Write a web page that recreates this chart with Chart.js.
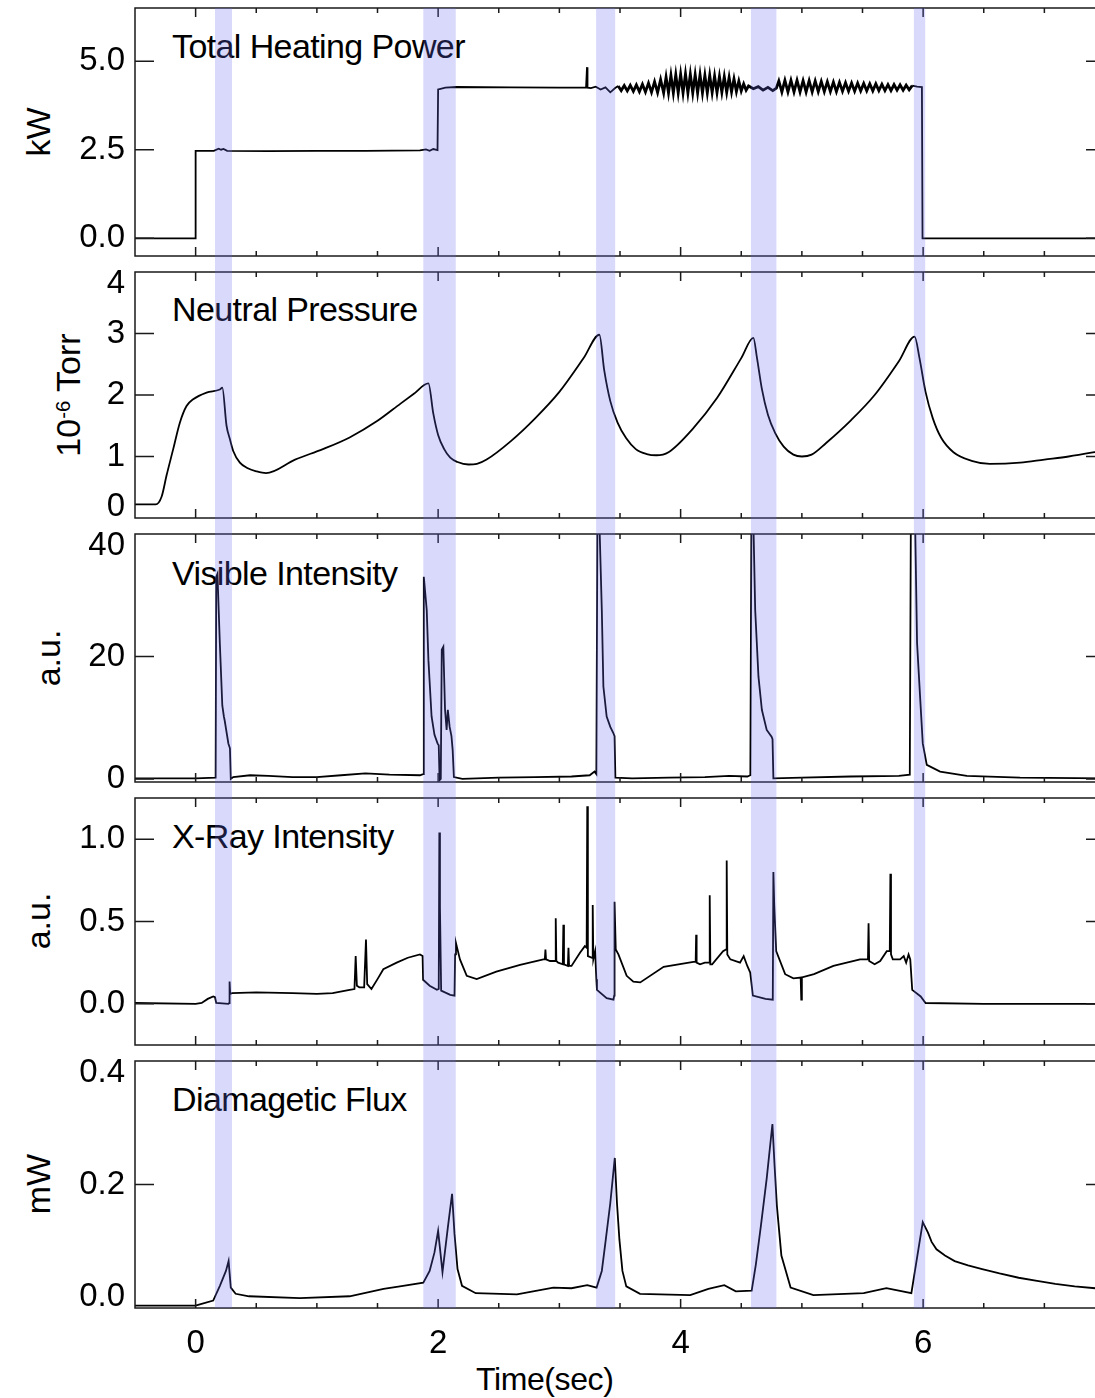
<!DOCTYPE html>
<html lang="en">
<head>
<meta charset="UTF-8" />
<title>Discharge signals</title>
<script src="https://cdn.jsdelivr.net/npm/chart.js"></script>
<style>
  body { margin: 0; background: #fff; overflow: hidden; }
  #wrap { position: relative; width: 1095px; height: 1398px; overflow: hidden;
          font-family: "Liberation Sans", Arial, sans-serif; color: #000; }
  canvas { position: absolute; left: 0; z-index: 1; }
  .name { position: absolute; left: 172px; font-size: 34px; line-height: 1;
          white-space: nowrap; letter-spacing: -0.6px; z-index: 0; }
  .ytitle { position: absolute; font-size: 34px; line-height: 1; white-space: nowrap;
            transform: translate(-50%, -50%) rotate(-90deg); z-index: 0; }
  .sup { position: relative; top: -0.5em; font-size: 0.6em; }
  #xtitle { position: absolute; left: 476px; top: 1363px; font-size: 32px; line-height: 1;
            white-space: nowrap; letter-spacing: -0.4px; }
</style>
</head>
<body>
<div id="wrap">
  <div class="name" style="top:29px">Total Heating Power</div>
  <div class="name" style="top:292px">Neutral Pressure</div>
  <div class="name" style="top:556px">Visible Intensity</div>
  <div class="name" style="top:819px">X-Ray Intensity</div>
  <div class="name" style="top:1082px">Diamagetic Flux</div>

  <div class="ytitle" style="left:38px;top:132px">kW</div>
  <div class="ytitle" style="left:68px;top:395px">10<span class="sup">-6</span> Torr</div>
  <div class="ytitle" style="left:48px;top:658px">a.u.</div>
  <div class="ytitle" style="left:38px;top:921px">a.u.</div>
  <div class="ytitle" style="left:38px;top:1184px">mW</div>

  <div id="xtitle">Time(sec)</div>

  <canvas id="cPower"></canvas>
  <canvas id="cPressure"></canvas>
  <canvas id="cVisible"></canvas>
  <canvas id="cXray"></canvas>
  <canvas id="cFlux"></canvas>
</div>

<script>
// ---- data ----
const timeTicks = [0, 0.5, 1, 1.5, 2, 2.5, 3, 3.5, 4, 4.5, 5, 5.5, 6, 6.5, 7];
const timeLabels = [0, 2, 4, 6];

// shaded time windows
const bandStart = [0.16, 1.878, 3.303, 4.58, 5.924];
const bandEnd = [0.30, 2.145, 3.46, 4.79, 6.017];

// stretch of the power trace with the fast ripple (drawn a bit heavier)
const rippleFrom = 3.47;
const rippleTo = 5.93;

const powerTicks = [0, 2.5, 5];
const powerTime = [
  -0.5, -0.005, 0.0, 0.15, 0.19, 0.21, 0.23, 0.26, 0.6, 1.0, 1.4, 1.85, 1.9, 1.93, 1.96, 1.995,
  2.0, 2.02, 2.06, 2.15, 2.6, 3.0, 3.22, 3.228, 3.232, 3.26, 3.30, 3.34, 3.38, 3.42, 3.46,
  // ripple, first part
  3.485, 3.51, 3.535, 3.56, 3.585, 3.61, 3.635, 3.66, 3.685, 3.71, 3.735, 3.76, 3.785, 3.81, 3.835, 3.86,
  // ripple, strongest part
  3.88, 3.90, 3.92, 3.94, 3.96, 3.98, 4.00, 4.02, 4.04, 4.06,
  4.08, 4.10, 4.12, 4.14, 4.16, 4.18, 4.20, 4.22, 4.24, 4.26,
  4.28, 4.30, 4.32, 4.34, 4.36, 4.38, 4.40, 4.42, 4.44, 4.46,
  4.48, 4.50, 4.52, 4.54, 4.56,
  4.60, 4.64, 4.68, 4.72, 4.76, 4.79,
  // ripple, late part
  4.81, 4.835, 4.86, 4.885, 4.91, 4.935, 4.96, 4.985, 5.01, 5.035,
  5.06, 5.085, 5.11, 5.135, 5.16, 5.185, 5.21, 5.235, 5.26, 5.285,
  5.31, 5.335, 5.36, 5.385, 5.41, 5.435, 5.46, 5.485, 5.51, 5.535,
  5.56, 5.585, 5.61, 5.635, 5.66, 5.685, 5.71, 5.735, 5.76, 5.785,
  5.81, 5.835, 5.86, 5.885, 5.91,
  5.95, 5.99, 5.995, 7.5
];
const powerKW = [
  0, 0, 2.47, 2.47, 2.53, 2.50, 2.52, 2.47, 2.46, 2.47, 2.47, 2.48, 2.51, 2.47, 2.52, 2.49,
  4.20, 4.22, 4.25, 4.27, 4.26, 4.25, 4.25, 4.83, 4.25, 4.24, 4.28, 4.20, 4.26, 4.12, 4.24,
  4.30, 4.17, 4.31, 4.16, 4.32, 4.15, 4.33, 4.14, 4.35, 4.13, 4.38, 4.12, 4.42, 4.11, 4.48, 4.10,
  4.55, 4.10, 4.60, 4.10, 4.62, 4.10, 4.63, 4.10, 4.64, 4.10,
  4.63, 4.10, 4.62, 4.10, 4.62, 4.10, 4.60, 4.10, 4.60, 4.11,
  4.58, 4.11, 4.57, 4.12, 4.56, 4.12, 4.54, 4.13, 4.50, 4.14,
  4.44, 4.16, 4.36, 4.18, 4.30,
  4.22, 4.28, 4.18, 4.26, 4.17, 4.24,
  4.44, 4.13, 4.46, 4.13, 4.46, 4.13, 4.46, 4.13, 4.45, 4.13,
  4.45, 4.13, 4.44, 4.14, 4.43, 4.14, 4.42, 4.14, 4.41, 4.14,
  4.40, 4.15, 4.39, 4.15, 4.38, 4.15, 4.38, 4.16, 4.37, 4.16,
  4.36, 4.16, 4.36, 4.17, 4.35, 4.17, 4.34, 4.17, 4.34, 4.18,
  4.33, 4.18, 4.32, 4.19, 4.31,
  4.28, 4.27, 0, 0
];

const pressureTicks = [0, 1, 2, 3, 4];
const pressureTime = [
  -0.5, -0.33, -0.28, -0.24, -0.185, -0.13, -0.075, -0.02, 0.09, 0.2, 0.22, 0.255, 0.283, 0.31,
  0.365, 0.43, 0.5, 0.58, 0.82, 1.05, 1.27, 1.5, 1.69, 1.8, 1.92, 1.96, 2.0, 2.05, 2.1, 2.16,
  2.25, 2.32, 2.4, 2.6, 2.8, 3.0, 3.2, 3.33, 3.37, 3.42, 3.48, 3.55, 3.63, 3.72, 3.8, 3.9,
  4.1, 4.3, 4.5, 4.6, 4.63, 4.67, 4.72, 4.78, 4.85, 4.93, 5.0, 5.08, 5.2, 5.4, 5.6, 5.8,
  5.93, 5.97, 6.02, 6.08, 6.15, 6.25, 6.4, 6.55, 6.8, 7.0, 7.2, 7.5
];
const pressureTorr = [
  0.22, 0.22, 0.35, 0.69, 1.12, 1.55, 1.82, 1.93, 2.04, 2.09, 2.12, 1.50, 1.28, 1.09,
  0.90, 0.81, 0.76, 0.73, 0.95, 1.12, 1.31, 1.58, 1.86, 2.02, 2.19, 1.70, 1.35, 1.12, 0.98, 0.91,
  0.87, 0.88, 0.95, 1.25, 1.62, 2.05, 2.6, 2.98, 2.4, 1.9, 1.55, 1.3, 1.12, 1.04, 1.02, 1.07,
  1.45, 1.95, 2.6, 2.93, 2.6, 2.1, 1.68, 1.38, 1.16, 1.03, 1.0, 1.03, 1.22, 1.58, 2.0, 2.55,
  2.95, 2.6, 2.05, 1.62, 1.3, 1.07, 0.93, 0.88, 0.9, 0.95, 1.0, 1.1
];

const visibleTicks = [0, 20, 40];
const visibleTime = [
  -0.5, 0.0, 0.165, 0.17, 0.18, 0.2, 0.22, 0.233, 0.24, 0.27, 0.283, 0.29, 0.31, 0.45, 0.6,
  0.8, 1.0, 1.2, 1.4, 1.6, 1.85, 1.876, 1.882, 1.906, 1.92, 1.946, 1.97, 1.995, 2.005, 2.012,
  2.022, 2.03, 2.043, 2.057, 2.07, 2.08, 2.095, 2.11, 2.12, 2.13, 2.2, 2.5, 2.8, 3.1, 3.25,
  3.29, 3.305, 3.315, 3.33, 3.35, 3.363, 3.39, 3.42, 3.445, 3.455, 3.462, 3.6, 3.9, 4.2, 4.4,
  4.55, 4.575, 4.585, 4.6, 4.615, 4.642, 4.67, 4.71, 4.75, 4.758, 4.765, 5.0, 5.4, 5.8, 5.89,
  5.9, 5.935, 5.95, 5.975, 5.997, 6.03, 6.14, 6.36, 6.8, 7.5
];
const visibleAU = [
  0.1, 0.1, 0.2, 33.0, 33.5, 22.0, 12.0, 10.2, 9.5, 5.8, 5.0, 0.0, 0.3, 0.6, 0.5,
  0.3, 0.3, 0.6, 0.9, 0.7, 0.6, 0.8, 33.0, 27.6, 19.4, 10.2, 7.2, 5.8, 5.5, -0.2,
  0.0, 21.1, 21.6, 11.3, 8.0, 11.3, 8.5, 7.0, 4.7, 0.3, 0.0, 0.2, 0.3, 0.4, 0.6,
  1.2, 0.8, 48.0, 42.0, 27.6, 15.1, 10.2, 8.5, 7.5, 7.0, 0.2, 0.1, 0.2, 0.3, 0.5,
  0.4, 0.6, 48.0, 42.0, 27.6, 16.7, 11.3, 8.0, 6.9, 6.5, 0.1, 0.2, 0.4, 0.5, 0.7,
  48.0, 40.5, 22.2, 13.4, 5.8, 2.3, 1.2, 0.5, 0.2, 0.1
];

const xrayTicks = [0, 0.5, 1];
const xrayTime = [
  -0.5, 0.0, 0.05, 0.1, 0.145, 0.16, 0.17, 0.27, 0.277, 0.28,
  0.285, 0.3, 0.5, 0.8, 1.0, 1.13, 1.27, 1.31, 1.32, 1.33,
  1.35, 1.39, 1.405, 1.415, 1.45, 1.5, 1.548, 1.658, 1.75, 1.85,
  1.872, 1.876, 1.93, 1.99, 2.005, 2.01, 2.015, 2.025, 2.1, 2.135,
  2.14, 2.147, 2.18, 2.236, 2.318, 2.48, 2.676, 2.868, 2.88, 2.885,
  2.89, 2.923, 2.965, 2.97, 2.975, 2.99, 3.028, 3.033, 3.038, 3.07,
  3.075, 3.08, 3.1, 3.17, 3.21, 3.225, 3.23, 3.235, 3.27, 3.275,
  3.28, 3.295, 3.305, 3.31, 3.39, 3.446, 3.452, 3.455, 3.465, 3.487,
  3.555, 3.61, 3.667, 3.86, 4.105, 4.124, 4.128, 4.132, 4.16, 4.2,
  4.235, 4.24, 4.245, 4.26, 4.35, 4.375, 4.38, 4.385, 4.41, 4.49,
  4.52, 4.55, 4.574, 4.596, 4.7, 4.76, 4.765, 4.772, 4.788, 4.862,
  4.93, 4.99, 4.995, 5.0, 5.1, 5.26, 5.48, 5.545, 5.55, 5.555,
  5.6, 5.646, 5.7, 5.725, 5.73, 5.735, 5.75, 5.81, 5.84, 5.86,
  5.88, 5.894, 5.91, 5.98, 6.02, 6.5, 7.0, 7.5
];
const xrayAU = [
  0.005, 0.0, 0.005, 0.03, 0.045, 0.04, 0.005, 0.0, 0.005, 0.135,
  0.06, 0.065, 0.07, 0.065, 0.06, 0.065, 0.085, 0.09, 0.29, 0.11,
  0.1, 0.1, 0.39, 0.12, 0.09, 0.15, 0.21, 0.25, 0.28, 0.30,
  0.29, 0.146, 0.11, 0.085, 0.09, 1.04, 0.59, 0.08, 0.055, 0.05,
  0.30, 0.37, 0.27, 0.17, 0.15, 0.196, 0.237, 0.27, 0.27, 0.33,
  0.27, 0.26, 0.26, 0.52, 0.26, 0.25, 0.24, 0.48, 0.24, 0.23,
  0.34, 0.23, 0.23, 0.31, 0.35, 0.34, 1.20, 0.29, 0.28, 0.60,
  0.27, 0.32, 0.15, 0.085, 0.035, 0.025, 0.05, 0.62, 0.33, 0.30,
  0.17, 0.135, 0.13, 0.225, 0.255, 0.255, 0.42, 0.25, 0.24, 0.25,
  0.25, 0.66, 0.24, 0.24, 0.32, 0.33, 0.87, 0.30, 0.27, 0.25,
  0.29, 0.23, 0.19, 0.05, 0.03, 0.025, 0.80, 0.60, 0.32, 0.18,
  0.155, 0.16, 0.025, 0.16, 0.18, 0.23, 0.27, 0.27, 0.49, 0.26,
  0.24, 0.26, 0.32, 0.32, 0.79, 0.30, 0.27, 0.27, 0.29, 0.25,
  0.30, 0.27, 0.085, 0.045, 0.005, 0.0, 0.0, 0.0
];

const fluxTicks = [0, 0.2, 0.4];
const fluxTime = [
  -0.5, 0.0, 0.035, 0.145, 0.2, 0.25, 0.272, 0.29, 0.33, 0.44,
  0.86, 1.27, 1.55, 1.685, 1.878, 1.93, 1.97, 2.0, 2.036, 2.08,
  2.115, 2.135, 2.16, 2.197, 2.31, 2.65, 2.95, 3.1, 3.23, 3.307,
  3.35, 3.383, 3.42, 3.457, 3.475, 3.495, 3.52, 3.552, 3.665, 4.079,
  4.229, 4.36, 4.455, 4.586, 4.62, 4.662, 4.71, 4.757, 4.775, 4.794,
  4.831, 4.907, 5.095, 5.51, 5.697, 5.903, 5.997, 6.04, 6.07, 6.11,
  6.18, 6.26, 6.37, 6.487, 6.63, 6.788, 6.94, 7.09, 7.25, 7.42, 7.5
];
const fluxMW = [
  0.004, 0.004, 0.006, 0.012, 0.036, 0.06, 0.076, 0.033, 0.023, 0.019,
  0.016, 0.019, 0.031, 0.035, 0.041, 0.06, 0.09, 0.125, 0.058, 0.13,
  0.185, 0.12, 0.063, 0.036, 0.024, 0.022, 0.033, 0.032, 0.037, 0.033,
  0.06, 0.111, 0.17, 0.243, 0.17, 0.111, 0.06, 0.035, 0.023, 0.021,
  0.031, 0.037, 0.027, 0.028, 0.07, 0.133, 0.21, 0.298, 0.23, 0.165,
  0.085, 0.033, 0.021, 0.024, 0.032, 0.024, 0.139, 0.122, 0.107, 0.095,
  0.085, 0.076, 0.069, 0.063, 0.056, 0.049, 0.044, 0.039, 0.035, 0.032, 0.031
];

// ---- layout ----
const FONT = '"Liberation Sans", Arial, sans-serif';
const CANVAS_W = 1110;
const PLOT_LEFT = 135;
const PLOT_RIGHT = 1105; // right frame sits just past the window edge
const PAD = 10;
const GAP = 16;

// frame with inward ticks, then the shaded windows laid over everything
const framePlugin = {
  id: "frame",
  afterDatasetsDraw(chart) {
    const { ctx, chartArea: a, scales } = chart;
    ctx.save();
    ctx.strokeStyle = "#1a1a1a";
    ctx.lineWidth = 1.5;
    ctx.strokeRect(a.left, a.top, a.right - a.left, a.bottom - a.top);
    ctx.beginPath();
    timeTicks.forEach((t) => {
      const x = scales.x.getPixelForValue(t);
      const len = timeLabels.includes(t) ? 9 : 5;
      ctx.moveTo(x, a.bottom);
      ctx.lineTo(x, a.bottom - len);
      ctx.moveTo(x, a.top);
      ctx.lineTo(x, a.top + len);
    });
    scales.y.ticks.forEach((tk) => {
      if (tk.value <= scales.y.min || tk.value >= scales.y.max) return;
      const y = scales.y.getPixelForValue(tk.value);
      ctx.moveTo(a.left, y);
      ctx.lineTo(a.left + 19, y);
      ctx.moveTo(a.right, y);
      ctx.lineTo(a.right - 19, y);
    });
    ctx.stroke();
    ctx.restore();
  },
  afterDraw(chart, args, opts) {
    const { ctx, chartArea: a, scales } = chart;
    const y0 = opts.first ? a.top : a.top - GAP / 2;
    const y1 = opts.last ? a.bottom : a.bottom + GAP / 2;
    ctx.save();
    ctx.fillStyle = "rgba(100, 105, 240, 0.25)";
    bandStart.forEach((s, i) => {
      const x0 = scales.x.getPixelForValue(s);
      const x1 = scales.x.getPixelForValue(bandEnd[i]);
      ctx.fillRect(x0, y0, x1 - x0, y1 - y0);
    });
    ctx.restore();
  },
};

function makePanel(p) {
  const canvas = document.getElementById(p.id);
  const plotH = p.bottom - p.top;
  const below = p.last ? 90 : PAD;
  canvas.width = CANVAS_W;
  canvas.height = PAD + plotH + below;
  canvas.style.top = p.top - PAD + "px";

  return new Chart(canvas, {
    type: "line",
    data: {
      datasets: [
        {
          data: p.xs.map((t, i) => ({ x: t, y: p.ys[i] })),
          borderColor: "#000",
          borderWidth: 1.8,
          pointRadius: 0,
          tension: 0,
          cubicInterpolationMode: p.smooth ? "monotone" : "default",
          segment: p.ripple
            ? {
                borderWidth: (c) =>
                  c.p0.parsed.x >= rippleFrom && c.p1.parsed.x <= rippleTo ? 2.8 : undefined,
              }
            : {},
        },
      ],
    },
    options: {
      responsive: false,
      animation: false,
      devicePixelRatio: 1,
      layout: {
        padding: { top: PAD, bottom: p.last ? 0 : PAD, left: 0, right: CANVAS_W - PLOT_RIGHT },
      },
      plugins: {
        legend: { display: false },
        tooltip: { enabled: false },
        frame: { first: !!p.first, last: !!p.last },
      },
      scales: {
        x: {
          type: "linear",
          min: -0.5,
          max: 7.5,
          grid: { display: false, drawTicks: false },
          border: { display: false },
          ticks: {
            display: !!p.last,
            padding: 16,
            color: "#000",
            font: { family: FONT, size: 33 },
            callback: (v) => String(v),
          },
          afterBuildTicks: (s) => {
            s.ticks = timeLabels.map((v) => ({ value: v }));
          },
          afterFit: (s) => {
            s.height = p.last ? 90 : 0;
            s.paddingLeft = 0;
            s.paddingRight = 0;
          },
        },
        y: {
          min: p.min,
          max: p.max,
          grid: { display: false, drawTicks: false },
          border: { display: false },
          ticks: {
            padding: 10,
            color: "#000",
            font: { family: FONT, size: 33, lineHeight: 0.7 },
            // labels at the frame edges are nudged inward, as in the original
            callback: (v) => {
              const txt = v.toFixed(p.digits);
              if (v >= p.max) return ["", txt];
              if (v <= p.min) return [txt, ""];
              return txt;
            },
          },
          afterBuildTicks: (s) => {
            s.ticks = p.ticks.map((v) => ({ value: v }));
          },
          afterFit: (s) => {
            s.width = PLOT_LEFT;
            s.paddingTop = 0;
            s.paddingBottom = 0;
          },
        },
      },
    },
    plugins: [framePlugin],
  });
}

makePanel({ id: "cPower", top: 8, bottom: 256, xs: powerTime, ys: powerKW,
  min: -0.5, max: 6.5, ticks: powerTicks, digits: 1, first: true, ripple: true });
makePanel({ id: "cPressure", top: 272, bottom: 518, xs: pressureTime, ys: pressureTorr,
  min: 0, max: 4, ticks: pressureTicks, digits: 0, smooth: true });
makePanel({ id: "cVisible", top: 534, bottom: 782, xs: visibleTime, ys: visibleAU,
  min: -0.5, max: 40, ticks: visibleTicks, digits: 0 });
makePanel({ id: "cXray", top: 798, bottom: 1045, xs: xrayTime, ys: xrayAU,
  min: -0.25, max: 1.25, ticks: xrayTicks, digits: 1 });
makePanel({ id: "cFlux", top: 1061, bottom: 1308, xs: fluxTime, ys: fluxMW,
  min: 0, max: 0.4, ticks: fluxTicks, digits: 1, last: true });
</script>
</body>
</html>
